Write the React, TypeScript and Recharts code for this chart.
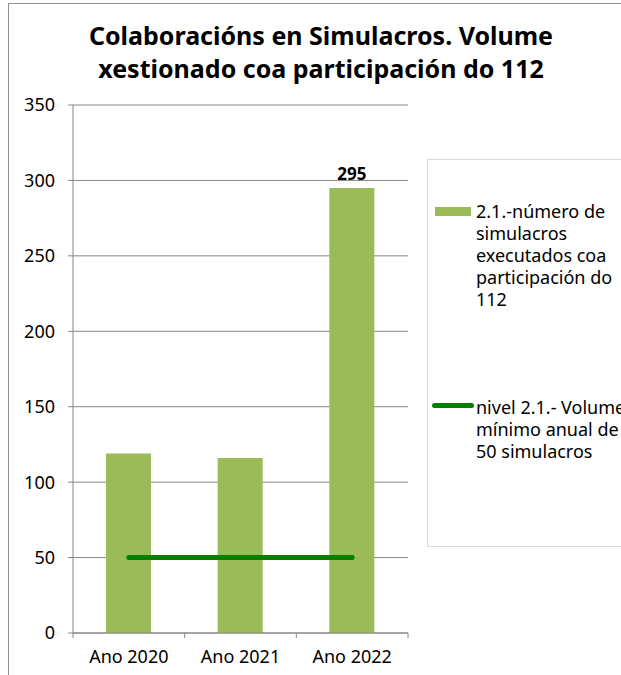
import { ComposedChart, Bar, Line, XAxis, YAxis, CartesianGrid, LabelList } from 'recharts';

const categories = ['Ano 2020', 'Ano 2021', 'Ano 2022'];
const simulacros = [119, 116, 295];
const nivelMinimo = [50, 50, 50];
const barLabels: (number | null)[] = [null, null, 295];
const yTicks = [0, 50, 100, 150, 200, 250, 300, 350];

const barLegendLines = ['2.1.-número de', 'simulacros', 'executados coa', 'participación do', '112'];
const lineLegendLines = ['nivel 2.1.- Volume', 'mínimo anual de', '50 simulacros'];

const data = categories.map((name, i) => ({
  name,
  simulacros: simulacros[i],
  nivel: nivelMinimo[i],
  label: barLabels[i],
}));

const FONT = '"Noto Sans", sans-serif';
const BAR_COLOR = '#9BBB59';
const LINE_COLOR = '#008000';
const AXIS_COLOR = '#868686';
const TICK_SIZE = 5;
const TICK_MARGIN = 12;

// category ticks: label at centre, tick marks at the band edges
function CategoryTick(props: any) {
  const { x, y, payload, index } = props;
  const half = payload.offset || 0;
  const axisY = y - TICK_SIZE - TICK_MARGIN;
  return (
    <g>
      <line x1={x - half} x2={x - half} y1={axisY} y2={axisY + TICK_SIZE} stroke={AXIS_COLOR} />
      {index === categories.length - 1 && (
        <line x1={x + half} x2={x + half} y1={axisY} y2={axisY + TICK_SIZE} stroke={AXIS_COLOR} />
      )}
      <text x={x} y={y} dy="0.71em" textAnchor="middle" fontSize={18} fill="#000" fontFamily={FONT}>
        {payload.value}
      </text>
    </g>
  );
}

function LegendBox() {
  const textStyle: React.CSSProperties = {
    position: 'absolute',
    left: 48,
    fontSize: 18,
    lineHeight: '22px',
    whiteSpace: 'nowrap',
    color: '#000',
  };
  return (
    <div
      style={{
        position: 'absolute',
        left: 427,
        top: 159,
        width: 210,
        height: 388,
        boxSizing: 'border-box',
        border: '1px solid #d9d9d9',
        fontFamily: FONT,
      }}
    >
      <div style={{ position: 'absolute', left: 7, top: 47, width: 36, height: 9, background: BAR_COLOR }} />
      <div style={{ ...textStyle, top: 40 }}>
        {barLegendLines.map((l) => (
          <div key={l}>{l}</div>
        ))}
      </div>
      <div style={{ position: 'absolute', left: 4, top: 243, width: 42, height: 5, borderRadius: 3, background: LINE_COLOR }} />
      <div style={{ ...textStyle, top: 236 }}>
        {lineLegendLines.map((l) => (
          <div key={l}>{l}</div>
        ))}
      </div>
    </div>
  );
}

export default function App() {
  return (
    <div style={{ position: 'absolute', left: 0, top: 0, width: 621, height: 675, overflow: 'hidden', background: '#fff' }}>
      <div
        style={{
          position: 'absolute',
          left: 8,
          top: 3,
          width: 700,
          height: 760,
          border: '1px solid #909090',
        }}
      />
      <div
        style={{
          position: 'absolute',
          left: 8,
          top: 19,
          width: 626,
          textAlign: 'center',
          fontFamily: FONT,
          fontWeight: 'bold',
          fontSize: 25,
          lineHeight: '33px',
          color: '#000',
        }}
      >
        Colaboracións en Simulacros. Volume
        <br />
        xestionado coa participación do 112
      </div>
      <div style={{ position: 'absolute', left: 0, top: 0 }}>
        <ComposedChart
          width={621}
          height={675}
          data={data}
          margin={{ top: 105, right: 213, left: 13, bottom: 12 }}
        >
          <CartesianGrid vertical={false} stroke={AXIS_COLOR} />
          <XAxis
            dataKey="name"
            height={30}
            stroke={AXIS_COLOR}
            tickLine={false}
            tickSize={TICK_SIZE}
            tickMargin={TICK_MARGIN}
            tick={<CategoryTick />}
            interval={0}
          />
          <YAxis
            domain={[0, 350]}
            ticks={yTicks}
            width={60}
            stroke={AXIS_COLOR}
            tickSize={5}
            tickMargin={13}
            tick={{ fontSize: 18, fill: '#000', fontFamily: FONT }}
            interval={0}
          />
          <Bar dataKey="simulacros" fill={BAR_COLOR} barSize={45} isAnimationActive={false}>
            <LabelList
              dataKey="label"
              position="top"
              offset={8}
              style={{ fontSize: 17, fontWeight: 'bold', fill: '#000', fontFamily: FONT }}
            />
          </Bar>
          <Line
            dataKey="nivel"
            stroke={LINE_COLOR}
            strokeWidth={5}
            strokeLinecap="round"
            dot={false}
            activeDot={false}
            isAnimationActive={false}
          />
        </ComposedChart>
      </div>
      <LegendBox />
    </div>
  );
}
